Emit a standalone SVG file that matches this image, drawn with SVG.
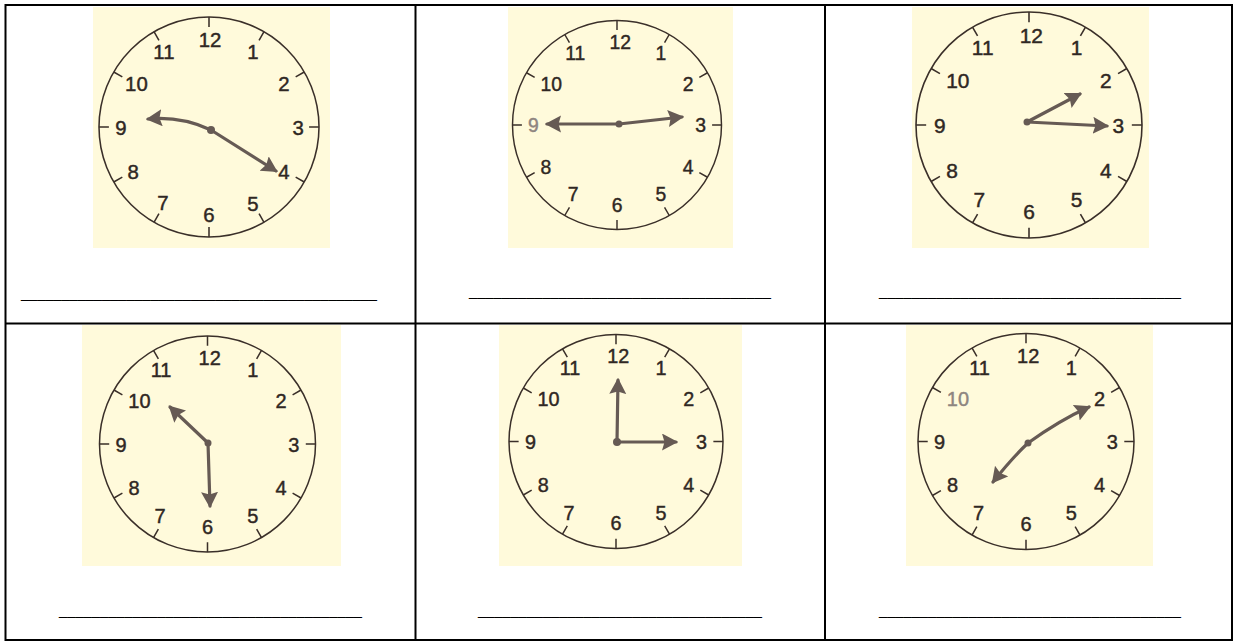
<svg xmlns="http://www.w3.org/2000/svg" width="1235" height="642" viewBox="0 0 1235 642">
<style>
.bg{fill:#fffadb}
.rim{fill:none;stroke:#3a2f29;stroke-width:1.4}
.tick{fill:none;stroke:#3a2f29;stroke-width:1.4}
.num{font-family:"Liberation Sans",Arial,sans-serif;font-size:18.5px;fill:#2f2723;stroke:#2f2723;stroke-width:0.4;text-anchor:middle}
.faint{fill:#8e8580;stroke:#8e8580}
.hand{fill:none;stroke:#665a54;stroke-width:3.2;stroke-linecap:round;marker-end:url(#ah)}
.hub{fill:#665a54}
.tbl{stroke:#000;stroke-width:2;fill:none}
.blank{font-family:"Liberation Sans",Arial,sans-serif;font-size:14.67px;fill:#000}
</style>
<defs>
<marker id="ah" markerUnits="userSpaceOnUse" markerWidth="20" markerHeight="20" refX="14" refY="8.5" orient="auto">
<path d="M0,0 L16,8.5 L0,17 L2.5,8.5 Z" fill="#665a54"/>
</marker>
</defs>
<rect x="0" y="0" width="1235" height="642" fill="#fff"/>

<g id="table">
<rect class="tbl" x="5.5" y="5" width="1226.5" height="635"/>
<line class="tbl" x1="415.5" y1="5" x2="415.5" y2="640"/>
<line class="tbl" x1="825" y1="5" x2="825" y2="640"/>
<line class="tbl" x1="5.5" y1="323.5" x2="1232" y2="323.5"/>
</g>

<g id="clock1">
<rect class="bg" x="93" y="7" width="237" height="241"/>
<g transform="translate(209,127) scale(1.1)">
<circle class="rim" r="100"/>
<path class="tick" d="M0,-91V-100M45.5,-78.8L50,-86.6M78.8,-45.5L86.6,-50M91,0H100M78.8,45.5L86.6,50M45.5,78.8L50,86.6M0,91V100M-45.5,78.8L-50,86.6M-78.8,45.5L-86.6,50M-91,0H-100M-78.8,-45.5L-86.6,-50M-45.5,-78.8L-50,-86.6"/>
<text class="num" x="1" y="-73">12</text><text class="num" x="40" y="-62">1</text><text class="num" x="68" y="-33">2</text><text class="num" x="81" y="7">3</text><text class="num" x="68" y="47">4</text><text class="num" x="40" y="76">5</text><text class="num" x="0" y="86">6</text><text class="num" x="-42" y="75">7</text><text class="num" x="-69" y="47">8</text><text class="num" x="-80" y="7">9</text><text class="num" x="-66" y="-33">10</text><text class="num" x="-41" y="-62">11</text>
</g>
<path class="hand" d="M211,130 Q181,116 148,119"/>
<path class="hand" d="M211,130 L276,171"/>
<circle class="hub" cx="211" cy="130" r="4"/>
<text class="blank" x="21" y="298" textLength="356" lengthAdjust="spacing">____________________________________________</text>
</g>

<g id="clock2">
<rect class="bg" x="508" y="7" width="225" height="241"/>
<g transform="translate(617,125) scale(1.045)">
<circle class="rim" r="100"/>
<path class="tick" d="M0,-91V-100M45.5,-78.8L50,-86.6M78.8,-45.5L86.6,-50M91,0H100M78.8,45.5L86.6,50M45.5,78.8L50,86.6M0,91V100M-45.5,78.8L-50,86.6M-78.8,45.5L-86.6,50M-91,0H-100M-78.8,-45.5L-86.6,-50M-45.5,-78.8L-50,-86.6"/>
<text class="num" x="3" y="-73">12</text><text class="num" x="42" y="-62">1</text><text class="num" x="68" y="-33">2</text><text class="num" x="80" y="7">3</text><text class="num" x="68" y="47">4</text><text class="num" x="42" y="73">5</text><text class="num" x="0" y="83">6</text><text class="num" x="-42" y="73">7</text><text class="num" x="-68" y="47">8</text><text class="num faint" x="-80" y="7">9</text><text class="num" x="-63" y="-33">10</text><text class="num" x="-40" y="-62">11</text>
</g>
<path class="hand" d="M619,124 L547,124"/>
<path class="hand" d="M619,124 L682,117"/>
<circle class="hub" cx="619" cy="124" r="3.5"/>
<text class="blank" x="469" y="296" textLength="302" lengthAdjust="spacing">_____________________________________</text>
</g>

<g id="clock3">
<rect class="bg" x="912" y="7" width="237" height="241"/>
<g transform="translate(1029,125) scale(1.13)">
<circle class="rim" r="100"/>
<path class="tick" d="M0,-91V-100M45.5,-78.8L50,-86.6M78.8,-45.5L86.6,-50M91,0H100M78.8,45.5L86.6,50M45.5,78.8L50,86.6M0,91V100M-45.5,78.8L-50,86.6M-78.8,45.5L-86.6,50M-91,0H-100M-78.8,-45.5L-86.6,-50M-45.5,-78.8L-50,-86.6"/>
<text class="num" x="2" y="-73">12</text><text class="num" x="42" y="-62">1</text><text class="num" x="68" y="-33">2</text><text class="num" x="79" y="7">3</text><text class="num" x="68" y="47">4</text><text class="num" x="42" y="73">5</text><text class="num" x="0" y="83">6</text><text class="num" x="-44" y="73">7</text><text class="num" x="-68" y="47">8</text><text class="num" x="-79" y="7">9</text><text class="num" x="-63" y="-33">10</text><text class="num" x="-41" y="-62">11</text>
</g>
<path class="hand" d="M1027,122 L1080,94"/>
<path class="hand" d="M1027,122 L1107,126"/>
<circle class="hub" cx="1027" cy="122" r="3.5"/>
<text class="blank" x="879" y="296" textLength="302" lengthAdjust="spacing">_____________________________________</text>
</g>

<g id="clock4">
<rect class="bg" x="82" y="325" width="259" height="241"/>
<g transform="translate(207.5,444) scale(1.08)">
<circle class="rim" r="100"/>
<path class="tick" d="M0,-91V-100M45.5,-78.8L50,-86.6M78.8,-45.5L86.6,-50M91,0H100M78.8,45.5L86.6,50M45.5,78.8L50,86.6M0,91V100M-45.5,78.8L-50,86.6M-78.8,45.5L-86.6,50M-91,0H-100M-78.8,-45.5L-86.6,-50M-45.5,-78.8L-50,-86.6"/>
<text class="num" x="2" y="-73">12</text><text class="num" x="42" y="-62">1</text><text class="num" x="68" y="-33">2</text><text class="num" x="80" y="7">3</text><text class="num" x="68" y="47">4</text><text class="num" x="42" y="73">5</text><text class="num" x="0" y="83">6</text><text class="num" x="-44" y="73">7</text><text class="num" x="-68" y="47">8</text><text class="num" x="-80" y="7">9</text><text class="num" x="-63" y="-33">10</text><text class="num" x="-43" y="-62">11</text>
</g>
<path class="hand" d="M208,443 L170,407"/>
<path class="hand" d="M208,443 L210,506"/>
<circle class="hub" cx="208" cy="443" r="3.5"/>
<text class="blank" x="59" y="615" textLength="303" lengthAdjust="spacing">_____________________________________</text>
</g>

<g id="clock5">
<rect class="bg" x="499" y="325" width="243" height="241"/>
<g transform="translate(616,441.5) scale(1.07)">
<circle class="rim" r="100"/>
<path class="tick" d="M0,-91V-100M45.5,-78.8L50,-86.6M78.8,-45.5L86.6,-50M91,0H100M78.8,45.5L86.6,50M45.5,78.8L50,86.6M0,91V100M-45.5,78.8L-50,86.6M-78.8,45.5L-86.6,50M-91,0H-100M-78.8,-45.5L-86.6,-50M-45.5,-78.8L-50,-86.6"/>
<text class="num" x="2" y="-73">12</text><text class="num" x="42" y="-62">1</text><text class="num" x="68" y="-33">2</text><text class="num" x="80" y="7">3</text><text class="num" x="68" y="47">4</text><text class="num" x="42" y="73">5</text><text class="num" x="0" y="83">6</text><text class="num" x="-44" y="73">7</text><text class="num" x="-68" y="47">8</text><text class="num" x="-80" y="7">9</text><text class="num" x="-63" y="-33">10</text><text class="num" x="-43" y="-62">11</text>
</g>
<path class="hand" d="M617,442 L618,380"/>
<path class="hand" d="M617,442 L676,442"/>
<circle class="hub" cx="617" cy="442" r="4"/>
<text class="blank" x="478" y="615" textLength="284" lengthAdjust="spacing">___________________________________</text>
</g>

<g id="clock6">
<rect class="bg" x="906" y="325" width="247" height="241"/>
<g transform="translate(1026,441.5) scale(1.08)">
<circle class="rim" r="100"/>
<path class="tick" d="M0,-91V-100M45.5,-78.8L50,-86.6M78.8,-45.5L86.6,-50M91,0H100M78.8,45.5L86.6,50M45.5,78.8L50,86.6M0,91V100M-45.5,78.8L-50,86.6M-78.8,45.5L-86.6,50M-91,0H-100M-78.8,-45.5L-86.6,-50M-45.5,-78.8L-50,-86.6"/>
<text class="num" x="2" y="-73">12</text><text class="num" x="42" y="-62">1</text><text class="num" x="68" y="-33">2</text><text class="num" x="80" y="7">3</text><text class="num" x="68" y="47">4</text><text class="num" x="42" y="73">5</text><text class="num" x="0" y="83">6</text><text class="num" x="-44" y="73">7</text><text class="num" x="-68" y="47">8</text><text class="num" x="-80" y="7">9</text><text class="num faint" x="-63" y="-33">10</text><text class="num" x="-43" y="-62">11</text>
</g>
<path class="hand" d="M1028,443 Q1060,420 1089,407"/>
<path class="hand" d="M1028,443 Q1012,458 993,482"/>
<circle class="hub" cx="1028" cy="443" r="3.5"/>
<text class="blank" x="879" y="615" textLength="302" lengthAdjust="spacing">_____________________________________</text>
</g>
</svg>
